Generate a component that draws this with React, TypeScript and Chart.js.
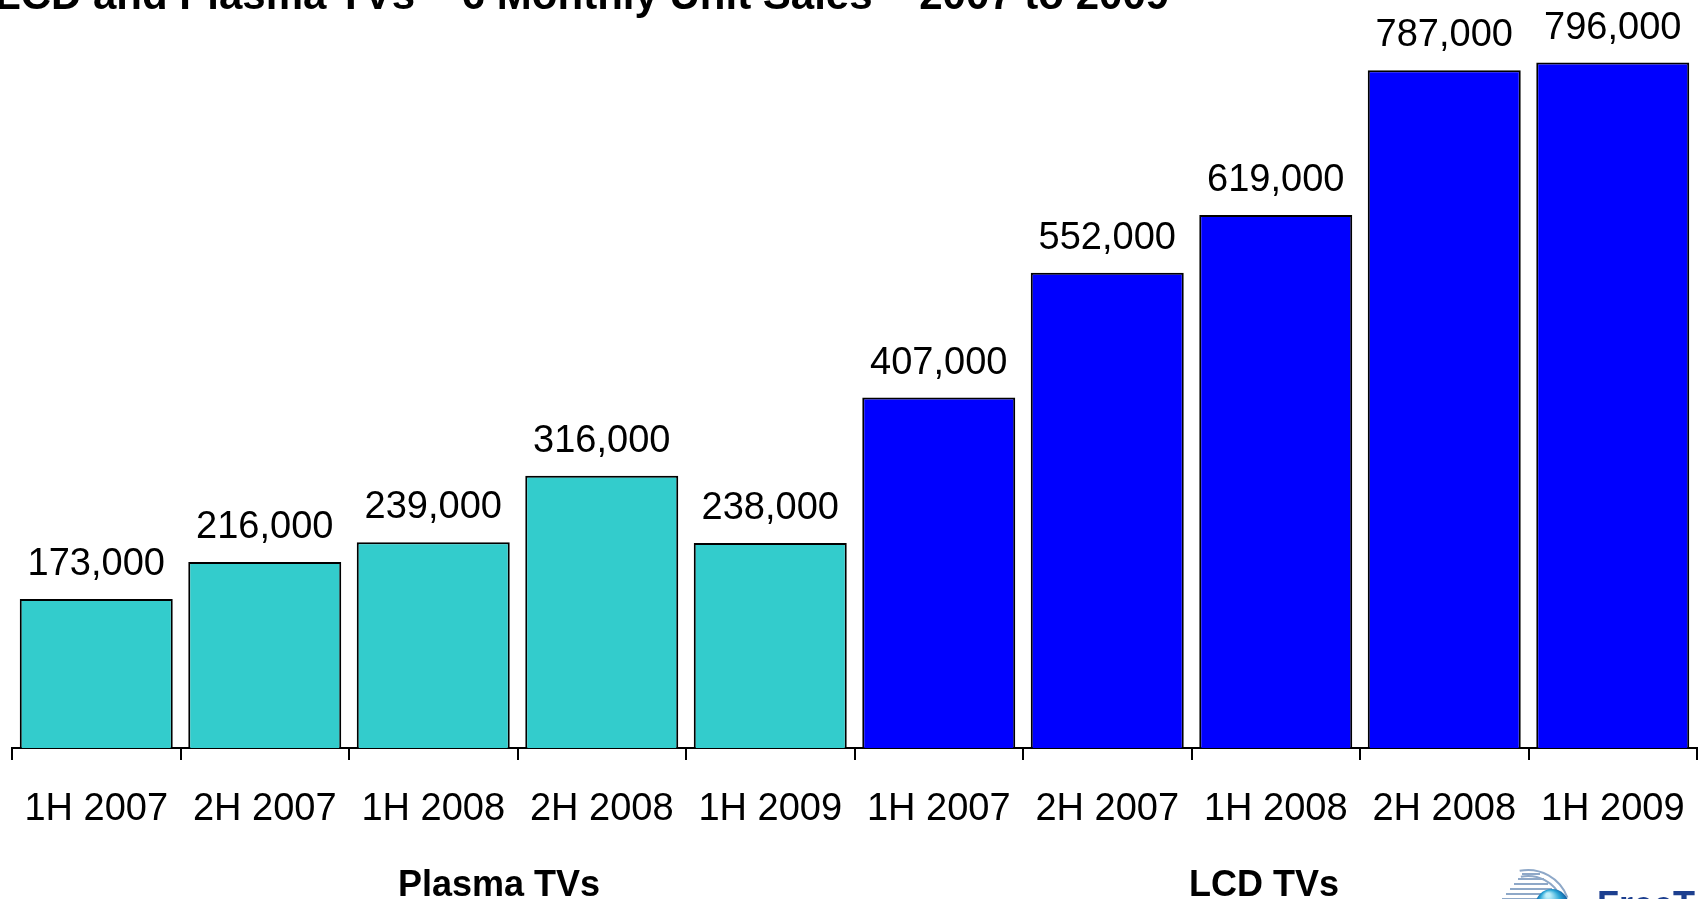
import React, { useEffect, useRef } from "react";
import { Chart, registerables } from "chart.js";

Chart.register(...registerables);

const chartTitle = "LCD and Plasma TVs – 6 Monthly Unit Sales – 2007 to 2009";
const periods = ["1H 2007", "2H 2007", "1H 2008", "2H 2008", "1H 2009"];
const categories = [...periods, ...periods];
const plasmaValues = [173000, 216000, 239000, 316000, 238000];
const lcdValues = [407000, 552000, 619000, 787000, 796000];
const groupLabels = ["Plasma TVs", "LCD TVs"];
const plasmaColor = "#33CCCC";
const lcdColor = "#0000FF";

const FONT = '"Liberation Sans", Arial, sans-serif';

const overlayPlugin = {
  id: "overlay",
  afterDatasetsDraw(chart: any) {
    const ctx = chart.ctx;
    const meta = chart.getDatasetMeta(0);
    const values = chart.data.datasets[0].data as number[];
    ctx.save();
    ctx.fillStyle = "#000";
    ctx.font = `38px ${FONT}`;
    ctx.textAlign = "center";
    ctx.textBaseline = "alphabetic";
    meta.data.forEach((bar: any, i: number) => {
      ctx.fillText(values[i].toLocaleString("en-US"), bar.x, bar.y - 24);
    });
    ctx.restore();
  },
  afterDraw(chart: any) {
    const ctx = chart.ctx;
    ctx.save();
    // title (cut off at top)
    ctx.fillStyle = "#000";
    ctx.font = `bold 42px ${FONT}`;
    ctx.textAlign = "left";
    ctx.textBaseline = "alphabetic";
    ctx.fillText(chartTitle, -5, 9);

    // group labels
    ctx.font = `bold 36px ${FONT}`;
    ctx.textAlign = "center";
    ctx.fillText(groupLabels[0], 499, 896);
    ctx.fillText(groupLabels[1], 1264, 896);

    // logo (cut off at bottom)
    ctx.strokeStyle = "#8ea8c8";
    ctx.lineWidth = 2;
    for (let i = 0; i < 6; i++) {
      const y = 874 + i * 5;
      ctx.beginPath();
      ctx.moveTo(1522 - i * 4, y);
      ctx.lineTo(1540 + i * 4, y);
      ctx.stroke();
    }
    ctx.beginPath();
    ctx.arc(1528, 912, 42, -Math.PI / 2 - 0.2, -0.35);
    ctx.stroke();
    ctx.beginPath();
    ctx.arc(1528, 912, 36, -Math.PI / 2 - 0.2, -0.4);
    ctx.stroke();
    const g = ctx.createRadialGradient(1548, 895, 2, 1552, 905, 18);
    g.addColorStop(0, "#bfeffa");
    g.addColorStop(0.5, "#2aa6d6");
    g.addColorStop(1, "#0b4f9a");
    ctx.fillStyle = g;
    ctx.beginPath();
    ctx.arc(1552, 906, 17, 0, Math.PI * 2);
    ctx.fill();
    ctx.fillStyle = "#1d3f8f";
    ctx.font = `bold 36px ${FONT}`;
    ctx.textAlign = "left";
    ctx.fillText("FreeT", 1597, 917);
    ctx.restore();
  },
};

export default function App() {
  const ref = useRef<HTMLCanvasElement | null>(null);

  useEffect(() => {
    if (!ref.current) return;
    const values = [...plasmaValues, ...lcdValues];
    const colors = [
      ...plasmaValues.map(() => plasmaColor),
      ...lcdValues.map(() => lcdColor),
    ];
    const chart = new Chart(ref.current, {
      type: "bar",
      data: {
        labels: categories,
        datasets: [
          {
            data: values,
            backgroundColor: colors,
            borderColor: "#000",
            borderWidth: 2,
            categoryPercentage: 1,
            barPercentage: 0.908,
          },
        ],
      },
      options: {
        responsive: false,
        animation: false,
        devicePixelRatio: 1,
        layout: { padding: { left: 12, right: 9, top: 16, bottom: 0 } },
        plugins: {
          legend: { display: false },
          title: { display: false },
          tooltip: { enabled: false },
        },
        scales: {
          x: {
            offset: true,
            grid: {
              display: true,
              offset: true,
              drawOnChartArea: false,
              drawTicks: true,
              tickLength: 12,
              color: "#000",
              lineWidth: 2,
            },
            border: { display: true, color: "#000", width: 2 },
            ticks: {
              color: "#000",
              font: { family: FONT, size: 38 },
              padding: 27,
              maxRotation: 0,
              autoSkip: false,
            },
            afterFit: (scale: any) => {
              scale.height = 151;
              scale.paddingLeft = 0;
              scale.paddingRight = 0;
            },
          },
          y: {
            display: false,
            min: 0,
            max: 850000,
          },
        },
      },
      plugins: [overlayPlugin],
    });
    return () => chart.destroy();
  }, []);

  return (
    <div style={{ position: "fixed", left: 0, top: 0, width: 1706, height: 899, background: "#fff" }}>
      <canvas ref={ref} width={1706} height={899} style={{ display: "block" }} />
    </div>
  );
}
